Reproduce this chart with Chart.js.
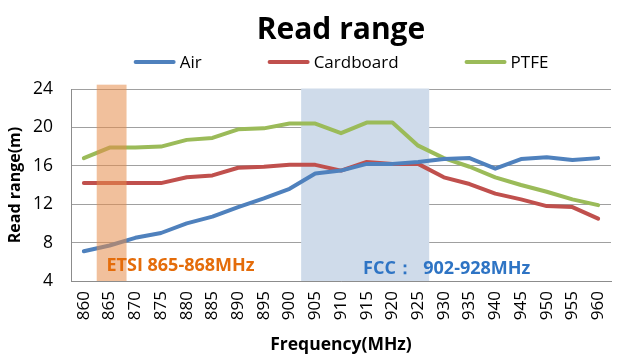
<!DOCTYPE html>
<html>
<head>
<meta charset="utf-8">
<script src="https://cdn.jsdelivr.net/npm/chart.js@4.4.1/dist/chart.umd.min.js"></script>
<style>
html,body{margin:0;padding:0;background:#fff;}
#wrap{width:618px;height:360px;position:relative;}
</style>
</head>
<body>
<div id="wrap"><canvas id="c" width="618" height="360"></canvas></div>
<script>
const frequencies = ['860','865','870','875','880','885','890','895','900','905','910','915','920','925','930','935','940','945','950','955','960'];
const airRange = [7.1,7.7,8.5,9.0,10.0,10.7,11.7,12.6,13.6,15.2,15.5,16.2,16.2,16.4,16.7,16.8,15.7,16.7,16.9,16.6,16.8];
const cardboardRange = [14.2,14.2,14.2,14.2,14.8,15.0,15.8,15.9,16.1,16.1,15.5,16.4,16.2,16.2,14.8,14.1,13.1,12.5,11.8,11.7,10.5];
const ptfeRange = [16.8,17.9,17.9,18.0,18.7,18.9,19.8,19.9,20.4,20.4,19.4,20.5,20.5,18.1,16.8,15.9,14.8,14.0,13.3,12.5,11.9];
const yTicks = [4,8,12,16,20,24];
// frequency bands as category-index spans
const etsiBand = {label:'ETSI 865-868MHz', from:0.5, to:1.66};
const fccBand = {label:'FCC：  902-928MHz', from:8.45, to:13.43};

const FONT = '"Open Sans", sans-serif';

const bandsPlugin = {
  id:'bands',
  beforeDatasetsDraw(chart){
    const {ctx, scales:{x,y}} = chart;
    const ca = chart.chartArea;
    ctx.save();
    ctx.fillStyle = '#CFDBEA';
    const x0 = x.getPixelForValue(fccBand.from), x1 = x.getPixelForValue(fccBand.to);
    const top = y.getPixelForValue(24) - 0.5;
    ctx.fillRect(x0, top, x1-x0, ca.bottom - top);
    ctx.restore();
  },
  afterDatasetsDraw(chart){
    const {ctx, scales:{x,y}} = chart;
    const ca = chart.chartArea;
    ctx.save();
    ctx.fillStyle = 'rgba(230,140,75,0.55)';
    const x0 = x.getPixelForValue(etsiBand.from), x1 = x.getPixelForValue(etsiBand.to);
    const top = y.getPixelForValue(24.45);
    ctx.fillRect(x0, top, x1-x0, ca.bottom - top);
    ctx.font = 'bold 18px ' + FONT;
    ctx.textBaseline = 'alphabetic';
    ctx.textAlign = 'left';
    ctx.fillStyle = '#E46C0A';
    ctx.fillText(etsiBand.label, x.getPixelForValue(0.88), y.getPixelForValue(5.07));
    ctx.fillStyle = '#2E74C4';
    ctx.fillText(fccBand.label, x.getPixelForValue(10.86), y.getPixelForValue(4.73));
    ctx.restore();
  }
};

// legend drawn from the datasets, centred over the plot area
const legendPlugin = {
  id:'lineLegend',
  afterDraw(chart){
    const {ctx} = chart;
    const ca = chart.chartArea;
    const boxW = 42, gap = 4, spacing = 66, yPos = 62;
    ctx.save();
    ctx.font = '17px ' + FONT;
    const items = chart.data.datasets.map(d => ({text:d.label, color:d.borderColor, w: boxW + gap + ctx.measureText(d.label).width}));
    const total = items.reduce((s,i)=>s+i.w,0) + spacing*(items.length-1);
    let xPos = (ca.left + ca.right)/2 - total/2;
    ctx.textBaseline = 'middle';
    ctx.textAlign = 'left';
    items.forEach(it => {
      ctx.strokeStyle = it.color;
      ctx.lineWidth = 4;
      ctx.lineCap = 'round';
      ctx.beginPath();
      ctx.moveTo(xPos + 2, yPos);
      ctx.lineTo(xPos + boxW - 2, yPos);
      ctx.stroke();
      ctx.fillStyle = '#000';
      ctx.fillText(it.text, xPos + boxW + gap, yPos + 1);
      xPos += it.w + spacing;
    });
    ctx.restore();
  }
};

new Chart(document.getElementById('c'), {
  type:'line',
  data:{
    labels: frequencies,
    datasets:[
      {label:'Air', data:airRange, borderColor:'#4F81BD', backgroundColor:'#4F81BD'},
      {label:'Cardboard', data:cardboardRange, borderColor:'#C0504D', backgroundColor:'#C0504D'},
      {label:'PTFE', data:ptfeRange, borderColor:'#9BBB59', backgroundColor:'#9BBB59'}
    ]
  },
  options:{
    responsive:false,
    animation:false,
    devicePixelRatio:1,
    layout:{padding:{left:0,right:7,top:0,bottom:0}},
    elements:{
      line:{borderWidth:4, tension:0, borderCapStyle:'round', borderJoinStyle:'round'},
      point:{radius:0, hoverRadius:0}
    },
    plugins:{
      title:{display:true, text:'Read range', fullSize:false, color:'#000',
        font:{family:FONT, size:30, weight:'bold', lineHeight:1.2}, padding:{top:12, bottom:41}},
      legend:{display:false},
      tooltip:{enabled:false}
    },
    scales:{
      x:{
        type:'category', offset:true,
        grid:{display:false, drawTicks:false},
        border:{display:true, color:'#8c8c8c', width:1},
        ticks:{minRotation:90, maxRotation:90, autoSkip:false, padding:10, color:'#000',
          font:{family:FONT, size:17}},
        title:{display:true, text:'Frequency(MHz)', color:'#000',
          font:{family:FONT, size:17.5, weight:'bold', lineHeight:1.2}, padding:{top:0,bottom:4}},
        afterFit(s){ s.height = 79; s.paddingLeft = 0; s.paddingRight = 0; }
      },
      y:{
        min:4, max:24,
        afterBuildTicks(s){ s.ticks = yTicks.map(v=>({value:v})); },
        grid:{color:'#a0a0a0', lineWidth:1, drawTicks:false},
        border:{display:true, color:'#8c8c8c', width:1},
        ticks:{padding:18, color:'#000', font:{family:FONT, size:17.5}},
        title:{display:true, text:'Read range(m)', color:'#000',
          font:{family:FONT, size:16, weight:'bold', lineHeight:1.2}, padding:{top:6,bottom:0}},
        afterFit(s){ s.width = 71; s.paddingTop = 0; s.paddingBottom = 0; }
      }
    }
  },
  plugins:[bandsPlugin, legendPlugin]
});
</script>
</body>
</html>
